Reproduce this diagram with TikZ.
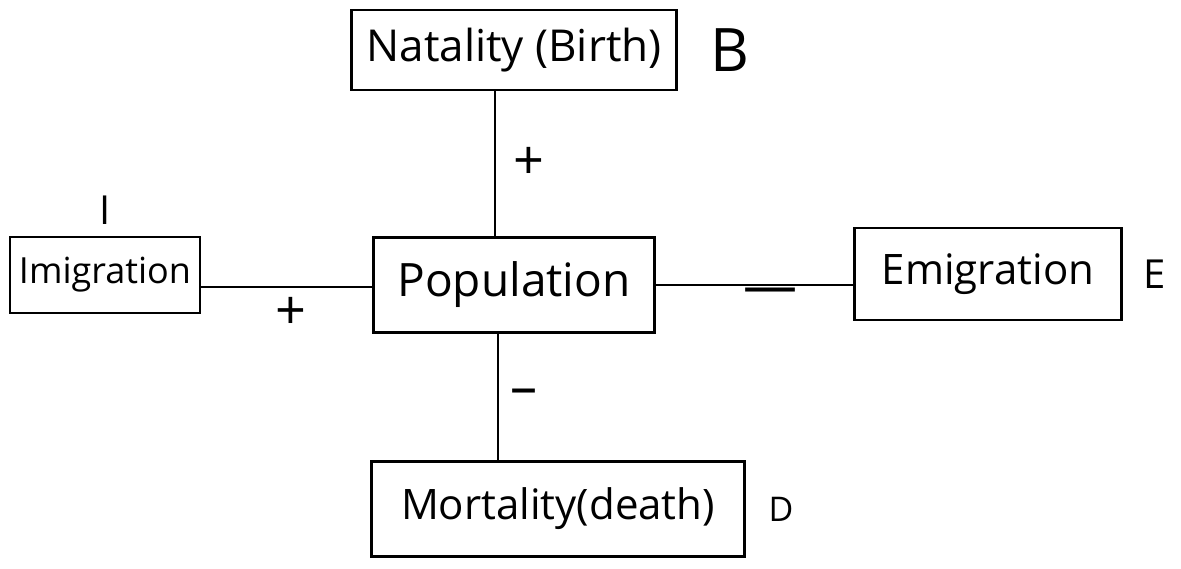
\documentclass[tikz,border=0pt]{standalone}
\usepackage{fontspec}
\setmainfont{Open Sans}
\usetikzlibrary{positioning}
\tikzset{
  factor/.style={draw=black, line width=2.8pt, rectangle, inner sep=0pt, font=\fontsize{42}{50}\selectfont},
  tag/.style={font=\fontsize{40}{48}\selectfont},
  sign/.style={font=\fontsize{54}{60}\selectfont}
}
\begin{document}
\begin{tikzpicture}[x=1pt,y=-1pt,line width=2.8pt]
\useasboundingbox (0,0) rectangle (1181,569);
% boxes
\node[factor,minimum width=325pt,minimum height=80pt,font=\fontsize{44}{52}\selectfont] (natality) at (514,50) {Natality (Birth)};
\node[factor,minimum width=281pt,minimum height=95pt,font=\fontsize{46}{54}\selectfont] (pop) at (514,285) {Population};
\node[factor,minimum width=190pt,minimum height=76pt,font=\fontsize{36}{44}\selectfont] (imig) at (105,275) {Imigration};
\node[factor,minimum width=267pt,minimum height=92pt] (emig) at (988,274) {Emigration};
\node[factor,minimum width=373pt,minimum height=95pt] (mort) at (558,509) {Mortality(death)};
% letters
\node[tag,right=28pt of natality,font=\fontsize{60}{70}\selectfont] (B) {B};
\node[tag,above=6pt of imig] (I) {I};
\node[tag,right=16pt of emig] (E) {E};
\node[tag,right=18pt of mort,font=\fontsize{34}{40}\selectfont] (D) {D};
% links
\draw ([xshift=-19pt]pop.north) -- ([xshift=-19pt]pop.north |- natality.south) node[midway,right=14pt,sign] {+};
\draw ([yshift=-12pt]imig.east) -- ([yshift=-12pt]imig.east -| pop.west) node[midway,below=6pt,xshift=4pt,sign] {+};
\draw (pop.east) -- (pop.east -| emig.west) node[midway,below=-2pt,xshift=16pt,sign] {—};
\draw ([xshift=-16pt]pop.south) -- ([xshift=-16pt]pop.south |- mort.north) node[midway,right=8pt,sign] {–};
\end{tikzpicture}
\end{document}
